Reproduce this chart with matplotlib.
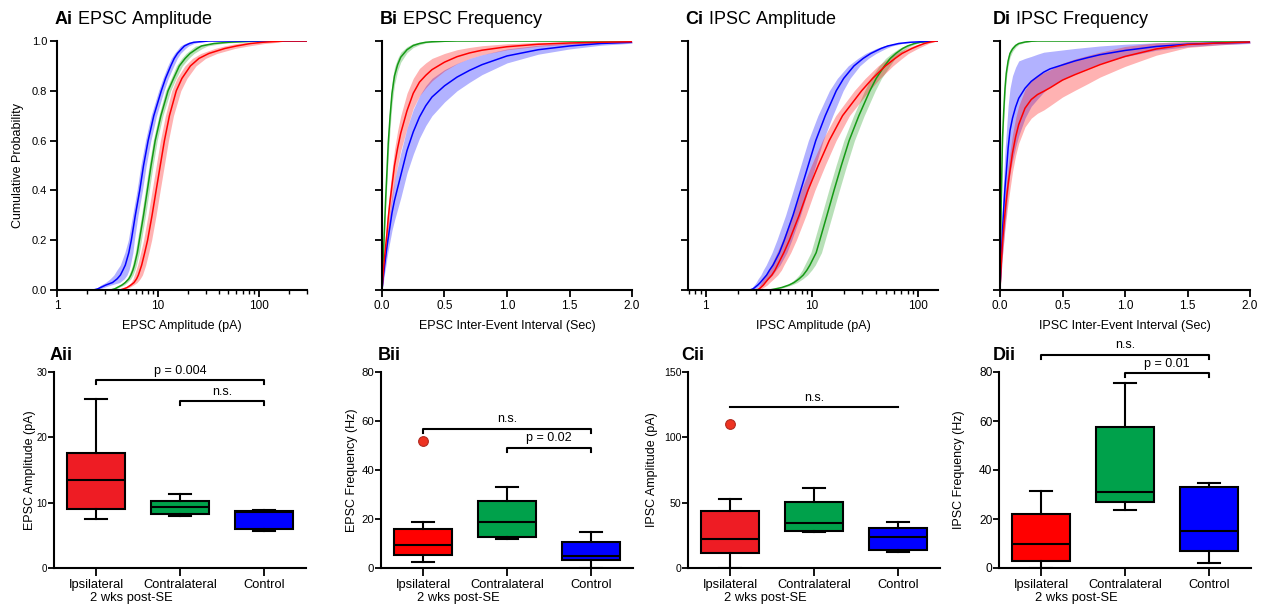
import numpy as np
import matplotlib
matplotlib.use('Agg')
import matplotlib.pyplot as plt
import matplotlib.transforms as mtransforms
from matplotlib.ticker import LogLocator, NullFormatter, FixedLocator

plt.rcParams['font.family'] = ['Liberation Sans', 'DejaVu Sans']
plt.rcParams['mathtext.fontset'] = 'custom'
plt.rcParams['mathtext.rm'] = 'Liberation Sans'
plt.rcParams['mathtext.bf'] = 'Liberation Sans:bold'

# ---------------- cumulative data ----------------
# amplitude panels: amplitude reached at each cumulative probability
amp_prob = [0, 0, 0.005, 0.01, 0.02, 0.03, 0.045, 0.06, 0.08, 0.10, 0.15, 0.20, 0.30, 0.40,
            0.50, 0.60, 0.70, 0.80, 0.85, 0.90, 0.93, 0.95, 0.97, 0.98, 0.99, 0.995, 1, 1]

ai_blue = [1, 2.3, 2.55, 2.7, 3.05, 3.55, 3.95, 4.25, 4.5, 4.75, 5.15, 5.45, 5.97, 6.6,
           7.2, 8.0, 9.1, 10.8, 11.9, 13.4, 14.5, 15.6, 17.3, 18.3, 20.5, 22.7, 32, 300]
ai_green = [1, 3.4, 3.75, 3.95, 4.4, 4.75, 5.15, 5.4, 5.65, 5.85, 6.25, 6.55, 7.2, 7.85,
            8.55, 9.4, 10.7, 12.6, 14.3, 16.3, 18.6, 20.8, 24.5, 27, 36, 50, 100, 300]
ai_red = [1, 4.2, 4.6, 4.95, 5.4, 5.8, 6.15, 6.4, 6.65, 6.9, 7.4, 7.9, 8.75, 9.6,
          10.55, 11.6, 13.0, 15.2, 17.3, 21.0, 25.5, 32, 46, 60, 83, 110, 180, 300]
# band half width (log10 units)
ai_blue_err = [0, 0, 0.02, 0.03, 0.05, 0.07, 0.07, 0.065, 0.06, 0.05, 0.04, 0.03, 0.027, 0.027,
               0.027, 0.027, 0.027, 0.027, 0.027, 0.03, 0.03, 0.03, 0.035, 0.04, 0.045, 0.05, 0, 0]
ai_green_err = [0, 0, 0.01, 0.015, 0.02, 0.02, 0.02, 0.02, 0.02, 0.02, 0.02, 0.02, 0.02, 0.02,
                0.02, 0.02, 0.02, 0.025, 0.025, 0.03, 0.035, 0.04, 0.05, 0.06, 0.08, 0.1, 0, 0]
ai_red_err = [0, 0, 0.01, 0.02, 0.025, 0.03, 0.035, 0.04, 0.04, 0.04, 0.04, 0.04, 0.04, 0.04,
              0.04, 0.04, 0.04, 0.045, 0.05, 0.055, 0.065, 0.08, 0.1, 0.12, 0.14, 0.15, 0, 0]

ci_blue = [0.68, 2.6, 2.8, 2.9, 3.1, 3.27, 3.5, 3.75, 4.0, 4.31, 4.95, 5.5, 6.65, 7.85,
           9.25, 10.9, 13.4, 17.0, 20.0, 25.0, 30.5, 36, 45, 52, 66, 85, 150, 155]
ci_green = [0.68, 4.0, 4.6, 5.2, 6.1, 6.8, 7.6, 8.3, 9.0, 9.6, 11.0, 11.9, 13.9, 16.2,
            19.0, 22.5, 27.8, 35.3, 40.5, 48.5, 55, 62, 72, 80, 93, 105, 140, 155]
ci_red = [0.68, 3.0, 3.2, 3.3, 3.5, 3.65, 3.9, 4.2, 4.5, 4.75, 5.45, 6.15, 7.6, 9.2,
          11.5, 14.6, 19.5, 29.5, 37.5, 49.5, 61, 71, 88, 100, 115, 128, 150, 155]
ci_blue_err = [0, 0, 0.02, 0.025, 0.035, 0.04, 0.05, 0.055, 0.06, 0.065, 0.07, 0.07, 0.07, 0.07,
               0.07, 0.07, 0.07, 0.065, 0.06, 0.055, 0.05, 0.05, 0.045, 0.04, 0.035, 0.03, 0, 0]
ci_green_err = [0, 0, 0.015, 0.02, 0.025, 0.03, 0.035, 0.04, 0.045, 0.05, 0.05, 0.05, 0.05, 0.05,
                0.05, 0.05, 0.05, 0.05, 0.05, 0.05, 0.045, 0.04, 0.035, 0.03, 0.025, 0.02, 0, 0]
ci_red_err = [0, 0, 0.02, 0.025, 0.035, 0.04, 0.05, 0.055, 0.06, 0.06, 0.065, 0.065, 0.065, 0.065,
              0.065, 0.065, 0.065, 0.07, 0.07, 0.07, 0.065, 0.06, 0.055, 0.05, 0.04, 0.03, 0, 0]

# frequency panels: cumulative probability at each inter-event interval (s)
iei = [0, 0.005, 0.01, 0.02, 0.03, 0.04, 0.05, 0.065, 0.08, 0.1, 0.125, 0.15, 0.2, 0.25,
       0.3, 0.35, 0.4, 0.5, 0.6, 0.7, 0.8, 1.0, 1.25, 1.5, 1.75, 2.0]

bi_green = [0, 0.06, 0.13, 0.25, 0.375, 0.48, 0.59, 0.70, 0.79, 0.86, 0.905, 0.935, 0.965, 0.982,
            0.99, 0.995, 0.997, 0.999, 1, 1, 1, 1, 1, 1, 1, 1]
bi_red = [0, 0.035, 0.07, 0.13, 0.18, 0.23, 0.29, 0.36, 0.42, 0.50, 0.57, 0.63, 0.72, 0.79,
          0.835, 0.862, 0.885, 0.915, 0.937, 0.952, 0.963, 0.977, 0.987, 0.992, 0.995, 0.997]
bi_blue = [0, 0.025, 0.05, 0.095, 0.135, 0.175, 0.21, 0.26, 0.31, 0.36, 0.41, 0.46, 0.56, 0.635,
           0.695, 0.74, 0.775, 0.82, 0.855, 0.882, 0.905, 0.94, 0.965, 0.98, 0.99, 0.995]
bi_green_err = [0, 0.01, 0.02, 0.03, 0.04, 0.045, 0.05, 0.05, 0.045, 0.035, 0.025, 0.02, 0.012, 0.008,
                0.005, 0.003, 0.002, 0.001, 0, 0, 0, 0, 0, 0, 0, 0]
bi_red_err = [0, 0.01, 0.02, 0.03, 0.04, 0.045, 0.05, 0.055, 0.06, 0.065, 0.07, 0.07, 0.07, 0.06,
              0.055, 0.05, 0.045, 0.035, 0.028, 0.022, 0.018, 0.012, 0.008, 0.005, 0.004, 0.003]
bi_blue_err = [0, 0.01, 0.02, 0.03, 0.04, 0.045, 0.05, 0.06, 0.07, 0.08, 0.085, 0.09, 0.09, 0.09,
               0.085, 0.08, 0.075, 0.065, 0.055, 0.048, 0.04, 0.028, 0.018, 0.012, 0.007, 0.004]

di_green = [0, 0.2, 0.36, 0.61, 0.72, 0.81, 0.87, 0.92, 0.95, 0.968, 0.982, 0.99, 0.996, 0.999,
            1, 1, 1, 1, 1, 1, 1, 1, 1, 1, 1, 1]
di_blue = [0, 0.07, 0.13, 0.24, 0.33, 0.41, 0.47, 0.57, 0.64, 0.69, 0.735, 0.77, 0.81, 0.838,
           0.857, 0.875, 0.888, 0.904, 0.92, 0.933, 0.945, 0.962, 0.978, 0.987, 0.992, 0.995]
di_red = [0, 0.055, 0.105, 0.19, 0.25, 0.31, 0.36, 0.425, 0.48, 0.55, 0.615, 0.665, 0.73, 0.765,
          0.785, 0.798, 0.812, 0.843, 0.865, 0.885, 0.905, 0.938, 0.968, 0.986, 0.992, 0.996]
di_green_err = [0, 0.03, 0.04, 0.04, 0.035, 0.03, 0.025, 0.02, 0.015, 0.01, 0.007, 0.004, 0.002, 0.001,
                0, 0, 0, 0, 0, 0, 0, 0, 0, 0, 0, 0]
di_blue_err = [0, 0.03, 0.06, 0.1, 0.13, 0.15, 0.16, 0.17, 0.17, 0.17, 0.16, 0.15, 0.12, 0.1,
               0.09, 0.08, 0.07, 0.06, 0.05, 0.042, 0.035, 0.025, 0.015, 0.01, 0.007, 0.005]
di_red_err = [0, 0.02, 0.035, 0.05, 0.06, 0.065, 0.07, 0.075, 0.075, 0.075, 0.075, 0.075, 0.075, 0.075,
              0.075, 0.075, 0.072, 0.068, 0.063, 0.057, 0.05, 0.04, 0.025, 0.012, 0.008, 0.004]

# ---------------- box plot data ----------------
groups = ['Ipsilateral', 'Contralateral', 'Control']

aii_med = [13.5, 9.3, 8.55]
aii_q1 = [9.1, 8.25, 6.0]
aii_q3 = [17.6, 10.3, 8.7]
aii_lo = [7.5, 8.0, 5.7]
aii_hi = [25.8, 11.3, 8.95]
aii_out = [[], [], []]

bii_med = [9.4, 18.9, 4.8]
bii_q1 = [5.4, 12.5, 3.1]
bii_q3 = [15.9, 27.2, 10.5]
bii_lo = [2.3, 12.0, 0.0]
bii_hi = [18.9, 33.0, 14.8]
bii_out = [[52.0], [], []]

cii_med = [22.3, 34.4, 23.8]
cii_q1 = [11.4, 28.6, 13.9]
cii_q3 = [43.3, 50.8, 30.4]
cii_lo = [0.0, 27.3, 11.9]
cii_hi = [52.6, 61.0, 35.2]
cii_out = [[110.5], [], []]

dii_med = [9.6, 30.9, 15.3]
dii_q1 = [2.7, 26.8, 6.8]
dii_q3 = [22.0, 57.7, 33.2]
dii_lo = [0.0, 23.6, 2.2]
dii_hi = [31.4, 75.5, 34.8]
dii_out = [[], [], []]

# significance bars: (from, to, bar y, drop y, label)
aii_sig = [(0, 2, 28.7, 28.1, 'p = 0.004'), (1, 2, 25.5, 24.9, 'n.s.')]
bii_sig = [(0, 2, 56.8, 55.1, 'n.s.'), (1, 2, 49.0, 47.3, 'p = 0.02')]
cii_sig = [(0, 2, 123.2, 123.2, 'n.s.')]
dii_sig = [(0, 2, 87.1, 85.5, 'n.s.'), (1, 2, 79.6, 77.9, 'p = 0.01')]

# ---------------- style ----------------
blue = '#0000ff'
green = '#159a15'
red = '#ff0000'
W, H = 1265, 610

fig = plt.figure(figsize=(12.65, 6.1), dpi=100)


def px_axes(left, top, width, height):
    return fig.add_axes([left / W, 1 - (top + height) / H, width / W, height / H])


def fig_text(x, y, s, **kw):
    return fig.text(x / W, 1 - y / H, s, **kw)


def style_axes(ax, lw=1.5):
    for side in ['top', 'right']:
        ax.spines[side].set_visible(False)
    for side in ['left', 'bottom']:
        ax.spines[side].set_linewidth(lw)
    ax.tick_params(which='major', direction='out', width=1.3, length=5)
    ax.tick_params(which='minor', direction='out', width=1.0, length=3)


def amp_panel(ax, curves, xlim):
    for xs, err, col in curves:
        xs = np.array(xs)
        f = 10 ** np.array(err)
        ax.fill_betweenx(amp_prob, xs / f, xs * f, color=col, alpha=0.3, lw=0)
        ax.plot(xs, amp_prob, color=col, lw=1.1)
    ax.set_xscale('log')
    ax.set_xlim(xlim)
    ax.set_ylim(0, 1)
    ax.xaxis.set_major_locator(FixedLocator([1, 10, 100]))
    ax.set_xticklabels(['1', '10', '100'])
    ax.xaxis.set_minor_locator(LogLocator(base=10, subs=np.arange(2, 10)))
    ax.xaxis.set_minor_formatter(NullFormatter())


def freq_panel(ax, curves):
    for ys, err, col in curves:
        ys = np.array(ys)
        e = np.array(err)
        ax.fill_between(iei, np.clip(ys - e, 0, 1), np.clip(ys + e, 0, 1), color=col, alpha=0.3, lw=0)
        ax.plot(iei, ys, color=col, lw=1.1)
    ax.set_xlim(0, 2)
    ax.set_ylim(0, 1)
    ax.set_xticks([0, 0.5, 1.0, 1.5, 2.0])
    ax.set_xticklabels(['0.0', '0.5', '1.0', '1.5', '2.0'])


# ---------------- top row ----------------
tops = [57, 382, 688, 1000]
ax_a = px_axes(tops[0], 41, 250, 249)
ax_b = px_axes(tops[1], 41, 250, 249)
ax_c = px_axes(tops[2], 41, 250, 249)
ax_d = px_axes(tops[3], 41, 250, 249)

amp_panel(ax_a, [(ai_green, ai_green_err, green), (ai_blue, ai_blue_err, blue), (ai_red, ai_red_err, red)], (1, 300))
freq_panel(ax_b, [(bi_green, bi_green_err, green), (bi_blue, bi_blue_err, blue), (bi_red, bi_red_err, red)])
amp_panel(ax_c, [(ci_green, ci_green_err, green), (ci_blue, ci_blue_err, blue), (ci_red, ci_red_err, red)], (0.68, 155))
freq_panel(ax_d, [(di_green, di_green_err, green), (di_blue, di_blue_err, blue), (di_red, di_red_err, red)])

top_titles = [r'$\mathbf{Ai}$ EPSC Amplitude', r'$\mathbf{Bi}$ EPSC Frequency',
              r'$\mathbf{Ci}$ IPSC Amplitude', r'$\mathbf{Di}$ IPSC Frequency']
top_title_x = [54, 379, 685, 992]
top_xlabels = ['EPSC Amplitude (pA)', 'EPSC Inter-Event Interval (Sec)',
               'IPSC Amplitude (pA)', 'IPSC Inter-Event Interval (Sec)']

for i, ax in enumerate([ax_a, ax_b, ax_c, ax_d]):
    style_axes(ax)
    ax.set_yticks([0, 0.2, 0.4, 0.6, 0.8, 1.0])
    if i == 0:
        ax.set_yticklabels(['0.0', '0.2', '0.4', '0.6', '0.8', '1.0'])
    else:
        ax.set_yticklabels([])
    ax.tick_params(axis='y', labelsize=8, pad=2)
    ax.tick_params(axis='x', labelsize=8.5, pad=2)
    fig_text(top_title_x[i], 24, top_titles[i], fontsize=13, va='baseline', ha='left')
    fig_text(tops[i] + 125, 326, top_xlabels[i], fontsize=9, ha='center', va='center')

fig_text(18, 165, 'Cumulative Probability', fontsize=9, rotation=90, ha='center', va='center')

# ---------------- bottom row ----------------
colours_box = [['#ee1c24', '#00a14b', blue], [red, '#00a14b', blue],
               ['#ee1c24', '#00a14b', blue], [red, '#00a14b', blue]]
bots = [54, 381, 688, 999]
box_data = [
    (aii_med, aii_q1, aii_q3, aii_lo, aii_hi, aii_out, aii_sig, 30, [0, 10, 20, 30], 7, 'EPSC Amplitude (pA)', 30, 'Aii', 50),
    (bii_med, bii_q1, bii_q3, bii_lo, bii_hi, bii_out, bii_sig, 80, [0, 20, 40, 60, 80], 8.2, 'EPSC Frequency (Hz)', 352, 'Bii', 378),
    (cii_med, cii_q1, cii_q3, cii_lo, cii_hi, cii_out, cii_sig, 150, [0, 50, 100, 150], 7.6, 'IPSC Amplitude (pA)', 652, 'Cii', 681),
    (dii_med, dii_q1, dii_q3, dii_lo, dii_hi, dii_out, dii_sig, 80, [0, 20, 40, 60, 80], 8.6, 'IPSC Frequency (Hz)', 959, 'Dii', 993),
]

for i, (med, q1, q3, lo, hi, out, sig, ymax, yt, ysize, ylab, ylab_x, name, name_x) in enumerate(box_data):
    ax = px_axes(bots[i], 372, 252, 196)
    style_axes(ax)
    stats = []
    for k in range(3):
        stats.append(dict(med=med[k], q1=q1[k], q3=q3[k], whislo=lo[k], whishi=hi[k], fliers=out[k]))
    bp = ax.bxp(stats, positions=[0, 1, 2], widths=0.68, capwidths=0.26, patch_artist=True,
                boxprops=dict(linewidth=1.5, edgecolor='black'),
                medianprops=dict(color='black', linewidth=1.5),
                whiskerprops=dict(color='black', linewidth=1.5),
                capprops=dict(color='black', linewidth=1.5),
                flierprops=dict(marker='o', markersize=7, markerfacecolor='#ee3322',
                                markeredgecolor='#b02a20', markeredgewidth=0.8))
    for patch, col in zip(bp['boxes'], colours_box[i]):
        patch.set_facecolor(col)
    for line in bp['fliers']:
        line.set_clip_on(False)
    ax.set_xlim(-0.5, 2.5)
    ax.set_ylim(0, ymax)
    ax.set_yticks(yt)
    ax.set_xticks([0, 1, 2])
    ax.set_xticklabels(groups)
    ax.tick_params(axis='y', labelsize=ysize, length=4, pad=0.8)
    ax.tick_params(axis='x', labelsize=9.3, length=6, pad=2)

    # significance bars
    off = mtransforms.offset_copy(ax.transData, fig=fig, y=2.5, units='points')
    for x0, x1, yb, yd, label in sig:
        ax.plot([x0, x0, x1, x1], [yd, yb, yb, yd], color='black', lw=1.5, clip_on=False)
        ax.text((x0 + x1) / 2, yb, label, ha='center', va='bottom', fontsize=9, transform=off)

    trans = mtransforms.blended_transform_factory(ax.transData, ax.transAxes)
    ax.text(0.42, -0.153, '2 wks post-SE', transform=trans, ha='center', va='center', fontsize=9.3)
    fig_text(ylab_x, 470, ylab, fontsize=9, rotation=90, ha='center', va='center')
    fig_text(name_x, 360, name, fontsize=13, fontweight='bold', ha='left', va='baseline')

plt.savefig('out.png', dpi=100)
